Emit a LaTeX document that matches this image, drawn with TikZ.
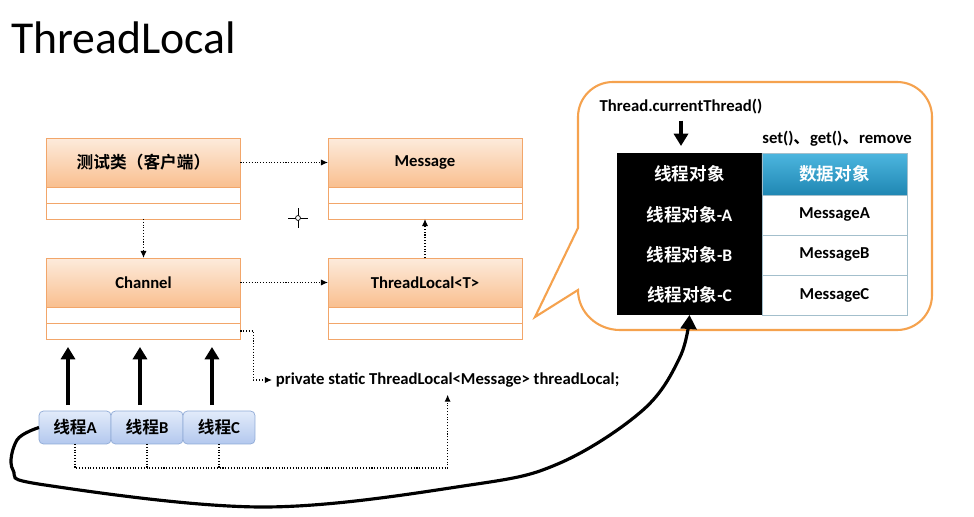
\documentclass[tikz,border=0pt]{standalone}
\usepackage{fontspec}
\setmainfont{Carlito}
\newfontfamily\cjk{Noto Sans CJK SC}[BoldFont={Noto Sans CJK SC Bold}]
\usetikzlibrary{positioning, calc, arrows.meta}
\tikzset{>=latex}
\definecolor{umlline}{HTML}{F2A66A}
\definecolor{headtop}{HTML}{FDEBDC}
\definecolor{headbot}{HTML}{F9BF8F}
\definecolor{threadline}{HTML}{8FAAD6}
\definecolor{threadtop}{HTML}{E2EBFA}
\definecolor{threadbot}{HTML}{B3C8EE}
\definecolor{bubbleline}{HTML}{F5A24E}
\definecolor{bluetop}{HTML}{4DB6DF}
\definecolor{bluebot}{HTML}{1F87B3}
\definecolor{cellline}{HTML}{A3BFCC}

\begin{document}
\begin{tikzpicture}
    [
        x=0.02cm, y=-0.02cm, font=\fontsize{9.5}{11}\selectfont\bfseries,
        head/.style={rectangle, draw=umlline, top color=headtop, bottom color=headbot, minimum width=3.88cm, minimum height=0.98cm, inner sep=0pt, outer sep=0pt},
        part/.style={rectangle, draw=umlline, fill=white, minimum width=3.88cm, minimum height=0.32cm, inner sep=0pt, outer sep=0pt},
        thread/.style={rectangle, rounded corners=2.5pt, draw=threadline, top color=threadtop, bottom color=threadbot, minimum width=1.44cm, minimum height=0.66cm, inner sep=0pt, outer sep=0pt},
        blackcell/.style={rectangle, fill=black, text=white, minimum width=2.9cm, minimum height=0.8cm, inner sep=0pt, outer sep=0pt, font=\fontsize{10}{12}\selectfont\bfseries},
        whitecell/.style={rectangle, draw=cellline, fill=white, minimum width=2.9cm, minimum height=0.8cm, inner sep=0pt, outer sep=0pt},
        dep/.style={densely dotted, line width=0.6pt, -{Latex[length=4pt,width=3.5pt]}},
        dots/.style={densely dotted, line width=0.6pt},
        thr/.style={line width=2.6pt, -{Triangle[length=7pt,width=8pt]}},
        bubble/.style={draw=bubbleline, line width=1.2pt, fill=white},
    ]

  \useasboundingbox (0,0) rectangle (974,517);

  \node[anchor=west, inner sep=0pt, font=\fontsize{26}{30}\selectfont] (title) at (11,38) {ThreadLocal};

  % class boxes
  \node[head] (client) at (143.5,162.5) {\cjk 测试类（客户端）};
  \node[part, below=0pt of client] (client2) {};
  \node[part, below=0pt of client2] (client3) {};

  \node[head] (msg) at (425,162.5) {Message};
  \node[part, below=0pt of msg] (msg2) {};
  \node[part, below=0pt of msg2] (msg3) {};

  \node[head] (chan) at (143.5,282.5) {Channel};
  \node[part, below=0pt of chan] (chan2) {};
  \node[part, below=0pt of chan2] (chan3) {};

  \node[head] (tl) at (425,282.5) {ThreadLocal<T>};
  \node[part, below=0pt of tl] (tl2) {};
  \node[part, below=0pt of tl2] (tl3) {};

  \draw[dep] (client.east) -- (msg.west);
  \draw[dep] (client3.south) -- (chan.north);
  \draw[dep] (chan.east) -- (tl.west);
  \draw[dep] (tl.north) -- (msg3.south);

  \draw[line width=0.4pt] (288,218) -- (308,218) (298,208) -- (298,228);
  \draw[line width=0.4pt, fill=white] (298,218) circle (1.4pt);

  \node[anchor=west, inner sep=2pt] (field) at (272,380) {private static ThreadLocal<Message> threadLocal;};
  \draw[dep] (chan3.east) -- ++(13,0) |- (field.west);

  % threads
  \node[thread] (thA) at (75,427.5) {{\cjk 线程}A};
  \node[thread, right=0pt of thA] (thB) {{\cjk 线程}B};
  \node[thread, right=0pt of thB] (thC) {{\cjk 线程}C};

  \foreach \t in {thA,thB,thC}
    \draw[thr] ($(\t.north)+(-7,-6)$) -- ($(\t.north |- chan3.south)+(-7,8)$);

  \coordinate (bus) at ($(field.south |- thA.south)+(0,24)$);
  \draw[dep, shorten >=2pt] (thA.south) |- (bus) -- (field.south);
  \draw[dots] (thB.south) -- (thB.south |- bus);
  \draw[dots] (thC.south) -- (thC.south |- bus);

  % callout
  \draw[bubble] (535,317) -- (578,228) -- (578,117) to[out=90, in=180] (613,82) -- (897,82) to[out=0, in=90] (932,117) -- (932,295) to[out=270, in=0] (897,330) -- (620,330) to[out=180, in=270] (578,290) -- cycle;

  \node (cur) at (681,107) {Thread.currentThread()};

  \node[blackcell, minimum height=0.84cm] (obj0) at (689.5,174) {\cjk 线程对象};
  \node[blackcell, below=0pt of obj0] (obja) {{\cjk 线程对象}-A};
  \node[blackcell, below=0pt of obja] (objb) {{\cjk 线程对象}-B};
  \node[blackcell, below=0pt of objb] (objc) {{\cjk 线程对象}-C};

  \node[whitecell, minimum height=0.84cm, top color=bluetop, bottom color=bluebot, text=white, font=\fontsize{10}{12}\selectfont\bfseries, right=0pt of obj0] (dat0) {\cjk 数据对象};
  \node[whitecell, below=0pt of dat0] (data) {MessageA};
  \node[whitecell, below=0pt of data] (datb) {MessageB};
  \node[whitecell, below=0pt of datb] (datc) {MessageC};

  \node[anchor=base west, inner sep=0pt] (ops) at ($(dat0.north west)+(0,-10)$) {set(){\cjk 、}get(){\cjk 、}remove};

  \draw[thr, shorten >=4pt] (cur.south) -- (cur.south |- obj0.north);

  \draw[line width=1.8pt, -{Triangle[length=8pt,width=9pt]}] plot[smooth, tension=0.6] coordinates {(thA.west) (17,440) (13,470) (45,485) (263,507) (470,485) (560,463) (643,410) (680,357) (objc.south)};
\end{tikzpicture}
\end{document}
